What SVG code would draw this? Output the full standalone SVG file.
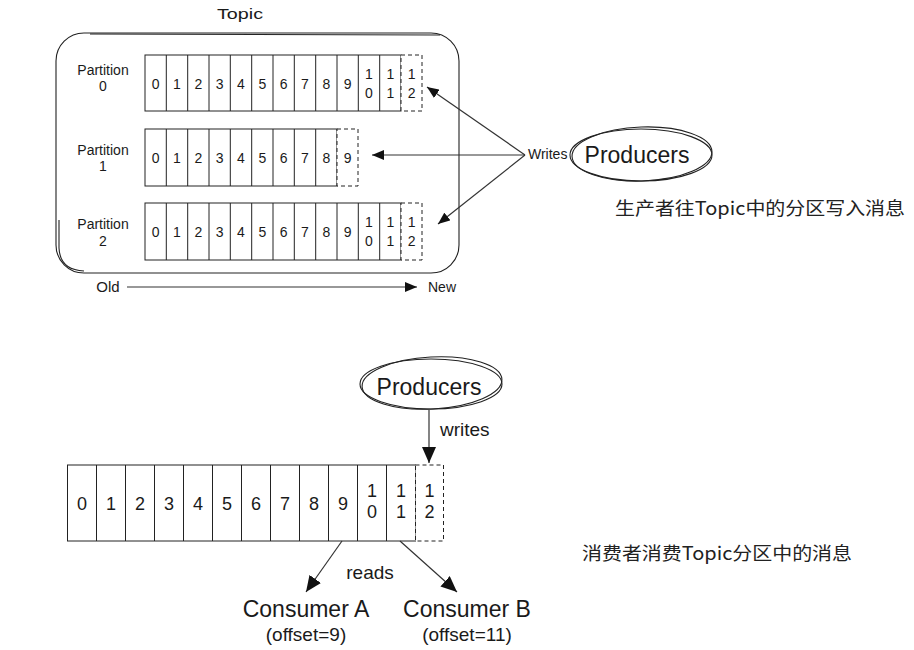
<svg xmlns="http://www.w3.org/2000/svg" width="914" height="650" viewBox="0 0 914 650">
<style>
.t{font-family:"Liberation Sans",Arial,sans-serif;fill:#1a1a1a}
.cjk{font-family:"Noto Sans CJK SC","Liberation Sans",sans-serif;fill:#222}
.cell{fill:#fff;stroke:#222;stroke-width:1}
.dash{fill:#fff;stroke:#222;stroke-width:1;stroke-dasharray:4 3}
.div{stroke:#222;stroke-width:1}
.d14{font-size:14px;text-anchor:middle}
.d18{font-size:18px;text-anchor:middle}
.ln{stroke:#333;stroke-width:1.2;fill:none}
.sk{fill:none;stroke:#222;stroke-width:1.1}
</style>
<defs>
<marker id="ah" markerUnits="userSpaceOnUse" markerWidth="12" markerHeight="10" refX="12" refY="5" orient="auto"><path d="M0,0 L12,5 L0,10 Z" fill="#111"/></marker>
<marker id="ahb" markerUnits="userSpaceOnUse" markerWidth="16" markerHeight="14" refX="16" refY="7" orient="auto"><path d="M0,0 L16,7 L0,14 Z" fill="#111"/></marker>
</defs>
<rect width="914" height="650" fill="#fff"/>

<g id="topic-box">
<text class="t" x="240" y="19" font-size="15" text-anchor="middle" textLength="46" lengthAdjust="spacingAndGlyphs">Topic</text>
<rect x="56" y="33" width="403" height="240" rx="28" ry="28" class="sk"/>
<path d="M59,220 L59,248 Q60,270 84,271" class="sk" stroke-width="0.7"/>
<path d="M90,34 L440,35" class="sk" stroke-width="0.6"/>
</g>

<g id="partition-0">
<text class="t" x="103" y="75" font-size="14" text-anchor="middle">Partition</text>
<text class="t" x="103" y="91" font-size="14" text-anchor="middle">0</text>
<rect class="cell" x="145" y="55" width="256" height="56"/>
<rect class="dash" x="401" y="55" width="21" height="56"/>
<path class="div" d="M166.3,55V111M187.7,55V111M209,55V111M230.3,55V111M251.7,55V111M273,55V111M294.3,55V111M315.7,55V111M337,55V111M358.3,55V111M379.7,55V111"/>
<g class="t d14">
<text x="155.7" y="89">0</text><text x="177" y="89">1</text><text x="198.3" y="89">2</text><text x="219.7" y="89">3</text><text x="241" y="89">4</text><text x="262.3" y="89">5</text><text x="283.7" y="89">6</text><text x="305" y="89">7</text><text x="326.3" y="89">8</text><text x="347.7" y="89">9</text>
<text x="369" y="79">1</text><text x="369" y="98">0</text><text x="390.3" y="79">1</text><text x="390.3" y="98">1</text><text x="411.7" y="79">1</text><text x="411.7" y="98">2</text>
</g>
</g>

<g id="partition-1">
<text class="t" x="103" y="155" font-size="14" text-anchor="middle">Partition</text>
<text class="t" x="103" y="171" font-size="14" text-anchor="middle">1</text>
<rect class="cell" x="145" y="129" width="192" height="57"/>
<rect class="dash" x="337" y="129" width="21" height="57"/>
<path class="div" d="M166.3,129V186M187.7,129V186M209,129V186M230.3,129V186M251.7,129V186M273,129V186M294.3,129V186M315.7,129V186"/>
<g class="t d14">
<text x="155.7" y="163">0</text><text x="177" y="163">1</text><text x="198.3" y="163">2</text><text x="219.7" y="163">3</text><text x="241" y="163">4</text><text x="262.3" y="163">5</text><text x="283.7" y="163">6</text><text x="305" y="163">7</text><text x="326.3" y="163">8</text><text x="347.7" y="163">9</text>
</g>
</g>

<g id="partition-2">
<text class="t" x="103" y="229" font-size="14" text-anchor="middle">Partition</text>
<text class="t" x="103" y="246" font-size="14" text-anchor="middle">2</text>
<rect class="cell" x="145" y="203" width="256" height="57"/>
<rect class="dash" x="401" y="203" width="21" height="57"/>
<path class="div" d="M166.3,203V260M187.7,203V260M209,203V260M230.3,203V260M251.7,203V260M273,203V260M294.3,203V260M315.7,203V260M337,203V260M358.3,203V260M379.7,203V260"/>
<g class="t d14">
<text x="155.7" y="237">0</text><text x="177" y="237">1</text><text x="198.3" y="237">2</text><text x="219.7" y="237">3</text><text x="241" y="237">4</text><text x="262.3" y="237">5</text><text x="283.7" y="237">6</text><text x="305" y="237">7</text><text x="326.3" y="237">8</text><text x="347.7" y="237">9</text>
<text x="369" y="227">1</text><text x="369" y="246">0</text><text x="390.3" y="227">1</text><text x="390.3" y="246">1</text><text x="411.7" y="227">1</text><text x="411.7" y="246">2</text>
</g>
</g>

<g id="old-new">
<text class="t" x="108" y="292" font-size="15" text-anchor="middle">Old</text>
<text class="t" x="442" y="292" font-size="14" text-anchor="middle">New</text>
</g>

<g id="producers-top">
<ellipse cx="641" cy="155" rx="71" ry="26" class="sk"/>
<ellipse cx="642" cy="154" rx="70" ry="27" class="sk" stroke-width="0.7" transform="rotate(-2 642 154)"/>
<text class="t" x="637" y="163" font-size="23" text-anchor="middle">Producers</text>
<text class="t" x="528" y="159" font-size="14">Writes</text>
</g>

<g id="note-top">
<text class="cjk" x="615" y="215" font-size="18" textLength="290" lengthAdjust="spacingAndGlyphs">生产者往Topic中的分区写入消息</text>
</g>

<g id="producers-bottom">
<ellipse cx="431" cy="384" rx="71" ry="25" class="sk"/>
<ellipse cx="432" cy="383" rx="70" ry="26" class="sk" stroke-width="0.7" transform="rotate(-3 432 383)"/>
<text class="t" x="429" y="395" font-size="23" text-anchor="middle">Producers</text>
<text class="t" x="440" y="436" font-size="19">writes</text>
</g>

<g id="log">
<rect class="cell" x="67.5" y="465" width="348" height="76"/>
<rect class="dash" x="415.5" y="465" width="28" height="76"/>
<path class="div" d="M96.5,465V541M125.5,465V541M154.5,465V541M183.5,465V541M212.5,465V541M241.5,465V541M270.5,465V541M299.5,465V541M328.5,465V541M357.5,465V541M386.5,465V541"/>
<g class="t d18">
<text x="82" y="510">0</text><text x="111" y="510">1</text><text x="140" y="510">2</text><text x="169" y="510">3</text><text x="198" y="510">4</text><text x="227" y="510">5</text><text x="256" y="510">6</text><text x="285" y="510">7</text><text x="314" y="510">8</text><text x="343" y="510">9</text>
<text x="372" y="497">1</text><text x="372" y="518">0</text><text x="401" y="497">1</text><text x="401" y="518">1</text><text x="429.5" y="497">1</text><text x="429.5" y="518">2</text>
</g>
</g>

<g id="consumer-a">
<text class="t" x="306" y="617" font-size="23" text-anchor="middle">Consumer A</text>
<text class="t" x="306" y="641" font-size="19" text-anchor="middle">(offset=9)</text>
</g>
<g id="consumer-b">
<text class="t" x="467" y="617" font-size="23" text-anchor="middle">Consumer B</text>
<text class="t" x="467" y="641" font-size="19" text-anchor="middle">(offset=11)</text>
</g>
<text class="t" x="370" y="579" font-size="19" text-anchor="middle">reads</text>

<g id="note-bottom">
<text class="cjk" x="582" y="560" font-size="18" textLength="270" lengthAdjust="spacingAndGlyphs">消费者消费Topic分区中的消息</text>
</g>

<g id="connectors">
<line class="ln" x1="525" y1="155" x2="427" y2="87" marker-end="url(#ah)"/>
<line class="ln" x1="525" y1="155" x2="372" y2="155" marker-end="url(#ah)"/>
<line class="ln" x1="525" y1="155" x2="438" y2="224" marker-end="url(#ah)"/>
<line class="ln" x1="127" y1="287" x2="417" y2="287" marker-end="url(#ah)"/>
<line class="ln" x1="429" y1="410" x2="429" y2="463" marker-end="url(#ahb)"/>
<line class="ln" x1="342" y1="541" x2="306" y2="592" marker-end="url(#ahb)"/>
<line class="ln" x1="400" y1="541" x2="457" y2="592" marker-end="url(#ahb)"/>
</g>
</svg>
